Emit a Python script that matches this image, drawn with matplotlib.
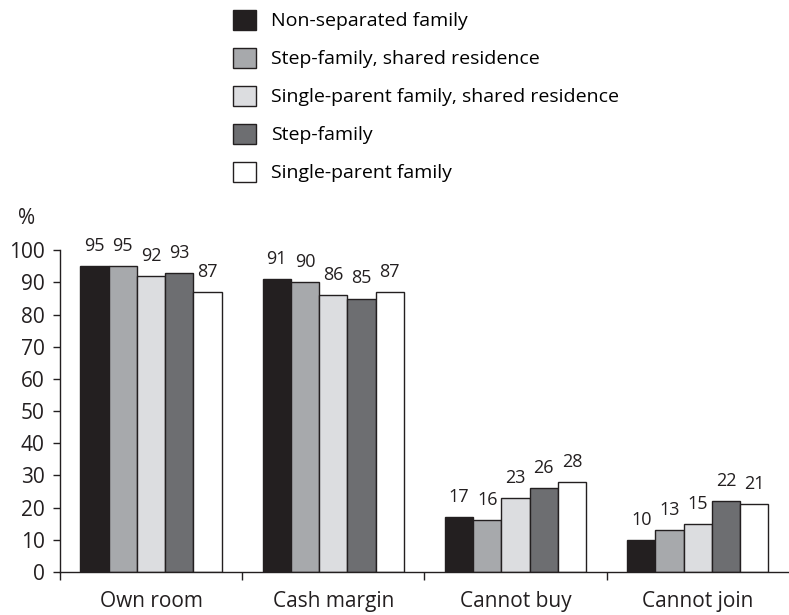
import numpy as np
import matplotlib
matplotlib.use("Agg")
import matplotlib.pyplot as plt
from matplotlib.ticker import FixedLocator

plt.rcParams['font.family'] = ['Open Sans', 'DejaVu Sans']

categories = ['Own room', 'Cash margin', 'Cannot buy', 'Cannot join']
series = ['Non-separated family', 'Step-family, shared residence',
          'Single-parent family, shared residence', 'Step-family',
          'Single-parent family']
values = [
    [95, 91, 17, 10],
    [95, 90, 16, 13],
    [92, 86, 23, 15],
    [93, 85, 26, 22],
    [87, 87, 28, 21],
]
colors = ['#231f20', '#a7a9ac', '#dcdde0', '#6d6e71', '#ffffff']

fig = plt.figure(figsize=(7.89, 6.15), dpi=100)
ax = fig.add_axes([0.076, 0.07, 0.924, 0.523])

x = np.arange(len(categories))
w = 0.155
handles = []
for i, (name, vals) in enumerate(zip(series, values)):
    pos = x + (i - 2) * w
    b = ax.bar(pos, vals, width=w, color=colors[i], edgecolor='#231f20',
               linewidth=1, label=name)
    handles.append(b)
    for p, v in zip(pos, vals):
        ax.annotate(str(v), (p, v), xytext=(0, 8), textcoords='offset points',
                    ha='center', va='bottom', fontsize=13, color='#231f20',
                    annotation_clip=False)

ax.set_xlim(-0.5, 3.5)
ax.set_ylim(0, 100)
ax.set_yticks(range(0, 101, 10))
ax.set_xticks(x)
ax.set_xticklabels(categories)
ax.xaxis.set_minor_locator(FixedLocator([-0.5, 0.5, 1.5, 2.5]))
ax.tick_params(axis='x', which='major', length=0, pad=14, labelsize=15,
               colors='#231f20')
ax.tick_params(axis='x', which='minor', length=6, width=1, direction='out',
               color='#231f20')
ax.tick_params(axis='y', length=5, width=1, direction='out', pad=6,
               labelsize=15, colors='#231f20')
for s in ['top', 'right']:
    ax.spines[s].set_visible(False)
for s in ['left', 'bottom']:
    ax.spines[s].set_color('#231f20')
    ax.spines[s].set_linewidth(1)

fig.text(18 / 789, 1 - 218 / 615, '%', fontsize=15, color='#231f20',
         ha='left', va='center')

fig.legend(handles=handles, labels=series, loc='upper left',
           bbox_to_anchor=(0.283, 1.0), frameon=False, fontsize=14,
           handlelength=1.2, handleheight=1.2, handletextpad=0.75,
           labelspacing=0.9, borderaxespad=0.1)

fig.savefig('out.png', dpi=100)
